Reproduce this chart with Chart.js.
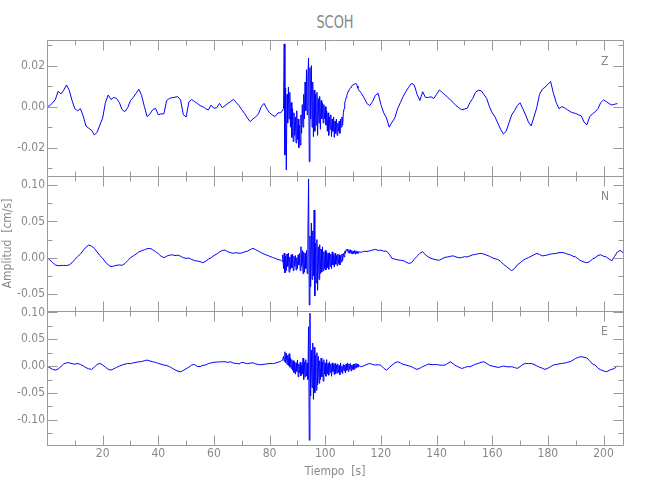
<!DOCTYPE html>
<html>
<head>
    <title>SCOH</title>
    <script src="https://cdn.jsdelivr.net/npm/chart.js"></script>
    <style>
        body { margin: 0; background: #fff; }
        #page { position: relative; width: 650px; height: 500px; background: #fff; }
        canvas { position: absolute; left: 0; }
        .txt { position: absolute; color: #888; font-family: 'Liberation Sans Narrow', 'DejaVu Sans Condensed', sans-serif; }
        .comp { left: 601px; font-size: 12px; line-height: 12px; }
    </style>
</head>
<body>
<div id="page">
    <div class="txt" style="left: 47px; width: 576px; top: 13px; text-align: center; font-size: 18px; line-height: 18px; transform: scaleX(0.8);">SCOH</div>
    <canvas id="panelZ" width="650" height="200" style="top: 0;"></canvas>
    <canvas id="panelN" width="650" height="190" style="top: 150px;"></canvas>
    <canvas id="panelE" width="650" height="210" style="top: 290px;"></canvas>
    <div class="txt comp" style="top: 55px;">Z</div>
    <div class="txt comp" style="top: 190px;">N</div>
    <div class="txt comp" style="top: 325px;">E</div>
</div>
<script>
    // amplitudes are in units of 1e-4 cm/s
    const UNIT = 1e-4;
    const SLOW_DT = 1;        // s, quiet parts (start at 0 s and at 112 s)
    const FAST_DT = 0.25;     // s, strong motion part
    const BURST_START = 84;
    const BURST_END = 112;

    // --- Z component ---
    const zBefore = [
        0, 5, 18, 35, 75, 62, 80, 106, 80, 30,
        -10, -20, -10, -45, -95, -105, -115, -138, -125, -90,
        -55, 20, 57, 35, 45, 40, 20, -15, -24, -5,
        30, 45, 65, 85, 55, 0, -49, -35, -15, -8,
        -40, -35, -35, 30, 40, 44, 46, 49, 33, -40,
        -50, 24, 35, 25, 16, 5, 0, -10, -16, 8,
        -8, -5, 16, -5, 5, 16, 25, 36, 20, 5,
        -15, -33, -55, -73, -60, -50, -35, 0, 16, -10,
        -30, -41, -48, -30
    ];
    const zBurst = [
        -30, -25, -20, -15,   -10, 306, -236, 90,   -309, 60, -80, 95,   -60, 70, -100, 20,
        -150, -10, -170, -30,  -140, -50, -177, -20,  -160, -60, -200, -90,  -187, -40, -130, 10,
        -100, 60, -60, 120,   -20, 180, -40, 150,   237, -268, 190, -60,   200, -100, 120, -146,
        81, -120, 60, -90,    70, -140, 40, -80,    50, -110, 30, -60,    18, -80, 10, -60,
        0, -90, -20, -120,    -30, -140, -50, -110,  -40, -146, -60, -120,  -50, -150, -70, -130,
        -60, -140, -80, -120,  -70, -130, -60, -100,  -50, -90, -30, -10,   18, 30, 45, 55,
        65, 75, 81, 85,       90, 95, 100, 105,     106, 108, 110, 112,   114, 110, 100, 90
    ];
    const zAfter = [
        82, 65, 42, 15, 5, 25, 55, 65, 10, -30,
        -55, -100, -75, -55, -10, 20, 50, 75, 95, 114,
        105, 60, 30, 73, 45, 45, 48, 40, 60, 81,
        70, 58, 45, 33, 20, 5, -5, -15, -12, -8,
        20, 40, 70, 80, 78, 60, 40, 0, -30, -50,
        -80, -110, -133, -120, -80, -40, -20, 5, 19, -10,
        -40, -75, -94, -50, -5, 60, 85, 95, 110, 122,
        65, 20, -10, 0, -5, -15, -24, -30, -33, -40,
        -45, -75, -89, -50, -35, -25, -10, 20, 33, 25,
        15, 8, 12, 15
    ];

    // --- N component ---
    const nBefore = [
        0, -30, -65, -100, -110, -108, -106, -108, -100, -70,
        -25, 15, 50, 100, 145, 175, 160, 130, 80, 30,
        -10, -60, -100, -124, -115, -105, -100, -105, -80, -40,
        0, 25, 50, 80, 95, 110, 125, 129, 110, 85,
        55, 20, 0, 20, 35, 40, 30, 35, 20, 0,
        -10, -5, -25, -40, -45, -55, -69, -50, -20, 0,
        30, 50, 80, 100, 106, 80, 70, 60, 70, 60,
        65, 80, 90, 110, 129, 110, 90, 70, 50, 35,
        20, 5, -10, -25
    ];
    const nBurst = [
        -35, -40, -50, 40,    -150, 60, -211, 20,   -180, 50, -120, 65,   -200, 10, -160, 40,
        -140, 50, -180, 20,   -120, 30, -170, 0,    -150, 40, -100, 60,   -180, 152, -120, 100,
        -220, 80, -200, 60,   -150, 100, -220, 250,  1087, -653, 300, -400, 479, -300, 370, -250,
        658, -528, 200, -350,  250, -450, 150, -300,  180, -220, 120, -200,  150, -180, 80, -150,
        100, -170, 80, -140,  60, -160, 70, -120,   50, -150, 80, -100,   40, -130, 60, -90,
        30, -110, 50, -80,    40, -100, 30, -60,    50, -40, 60, 10,      90, 60, 110, 100,
        120, 70, 110, 60,     110, 60, 100, 50,     90, 60, 100, 50,      95, 60, 85, 60
    ];
    const nAfter = [
        80, 75, 90, 85, 95, 105, 115, 100, 105, 90,
        90, 50, -10, -20, -30, -35, -40, -60, -78, -70,
        -20, 20, 60, 83, 40, 10, -10, -20, -30, -35,
        -15, 5, 10, 20, 25, 10, 0, 0, 15, 10,
        25, 40, 45, 55, 60, 50, 35, 20, 0, -15,
        -25, -50, -90, -120, -150, -179, -150, -100, -70, -40,
        -15, 0, 20, 40, 60, 45, 25, 30, 40, 50,
        55, 60, 70, 72, 65, 50, 40, 20, 10, -20,
        -45, -60, -69, -55, -20, 0, 30, 40, 20, 10,
        -20, -41, 20, 80, 100, 70
    ];

    // --- E component ---
    const eBefore = [
        0, -30, -60, -75, -55, -10, 40, 60, 62, 45,
        35, 50, 30, 5, -30, -50, -62, -20, 30, 50,
        20, -20, -60, -75, -50, -25, 0, 20, 35, 50,
        45, 60, 70, 80, 85, 100, 112, 95, 80, 70,
        50, 35, 20, 10, -10, -40, -70, -95, -106, -80,
        -50, -20, 20, 30, -5, -10, 15, 20, 45, 60,
        70, 75, 78, 81, 80, 70, 80, 55, 50, 40,
        70, 60, 45, 55, 62, 40, 30, 25, 35, 40,
        50, 45, 55, 70
    ];
    const eBurst = [
        90, 100, 110, 130,    180, 90, 267, 60,     240, 30, 200, 10,     230, -20, 150, -43,
        120, -80, 100, -120,  80, -150, 60, -100,   110, -200, 40, -130,  70, -180, 20, -150,
        150, -250, 80, -200,  120, -180, 60, -250,  733, -1381, 983, -560, 300, -400, 430, -620,
        350, -500, 200, -450,  250, -350, 180, -320,  100, -250, 150, -200,  80, -280, 120, -150,
        60, -190, 120, -150,  50, -170, 80, -120,   40, -190, 60, -100,   30, -160, 50, -140,
        20, -130, 40, -120,   10, -160, 60, -110,   0, -140, 30, -90,     20, -130, 40, -80,
        60, -100, 40, -60,    50, -90, 20, -60,     30, -70, 40, -40,     50, -30, 40, -20
    ];
    const eAfter = [
        10, -12, 10, 30, 50, 30, 20, 25, 15, -40,
        -75, -30, 19, 60, 81, 60, 30, 20, 5, -12,
        -40, -62, -40, -10, 10, 37, 30, 25, 30, 20,
        15, 19, 50, 81, 40, 5, -20, -44, -30, -10,
        -12, 10, 35, 50, 70, 81, 50, 15, 0, -10,
        -25, -15, 0, -10, -15, -12, -25, -44, -10, 30,
        50, 45, 50, 30, 5, -20, -40, -62, -40, -10,
        19, 30, 40, 50, 55, 70, 81, 110, 143, 165,
        174, 165, 150, 100, 40, 19, -40, -70, -90, -106,
        -80, -60, -44, 6
    ];

    const T_MIN = 0, T_MAX = 207;
    const GRAY_TEXT = '#888';
    const GRAY_LINE = '#9a9a9a';
    const FONT = "'Liberation Sans Narrow', 'DejaVu Sans Condensed', sans-serif";

    function toPoints(before, burst, after) {
        const pts = [];
        before.forEach((v, i) => pts.push({x: i * SLOW_DT, y: v * UNIT}));
        burst.forEach((v, i) => pts.push({x: BURST_START + i * FAST_DT, y: v * UNIT}));
        after.forEach((v, i) => pts.push({x: BURST_END + i * SLOW_DT, y: v * UNIT}));
        return pts;
    }

    function isOnStep(v, step) {
        return Math.abs(v / step - Math.round(v / step)) < 1e-6;
    }

    function isMajor(v, step) {
        return isOnStep(v, step) && Math.abs(Math.round(v / step)) % 2 === 0;
    }

    // IDL-like box with inward ticks on all four sides
    const frameTicks = {
        id: 'frameTicks',
        afterDatasetsDraw(chart, args, opts) {
            const ctx = chart.ctx;
            const a = chart.chartArea;
            const x = chart.scales.x, y = chart.scales.y;
            const L = Math.round(a.left) + 0.5, R = Math.round(a.right) + 0.5;
            const T = Math.round(a.top) + 0.5, B = Math.round(a.bottom) + 0.5;
            ctx.save();
            ctx.strokeStyle = GRAY_LINE;
            ctx.lineWidth = 1;
            ctx.beginPath();
            ctx.rect(L, T, R - L, B - T);
            x.ticks.forEach(t => {
                if (!isOnStep(t.value, opts.xStep)) return;
                const len = isMajor(t.value, opts.xStep) ? 10 : 5;
                const px = Math.round(x.getPixelForValue(t.value)) + 0.5;
                ctx.moveTo(px, B); ctx.lineTo(px, B - len);
                ctx.moveTo(px, T); ctx.lineTo(px, T + len);
            });
            y.ticks.forEach(t => {
                if (!isOnStep(t.value, opts.yStep)) return;
                const len = isMajor(t.value, opts.yStep) ? 10 : 5;
                const py = Math.round(y.getPixelForValue(t.value)) + 0.5;
                ctx.moveTo(L, py); ctx.lineTo(L + len, py);
                ctx.moveTo(R, py); ctx.lineTo(R - len, py);
            });
            ctx.stroke();
            ctx.restore();
        }
    };

    function makePanel(id, points, p) {
        const xTitle = p.showX ? {
            display: true, text: 'Tiempo  [s]', color: GRAY_TEXT,
            font: {family: FONT, size: 12}, padding: {top: 0, bottom: 21}
        } : {display: false};
        const yTitle = p.yTitle ? {
            display: true, text: p.yTitle, color: GRAY_TEXT,
            font: {family: FONT, size: 12}, padding: {top: 1, bottom: 0}
        } : {display: false};

        return new Chart(document.getElementById(id), {
            type: 'line',
            data: {
                datasets: [{
                    data: points,
                    borderColor: 'rgb(0,0,255)',
                    borderWidth: 1,
                    pointRadius: 0,
                    tension: 0
                }]
            },
            options: {
                responsive: false,
                animation: false,
                devicePixelRatio: 1,
                layout: {padding: {left: 0, right: 27, top: p.padTop, bottom: p.padBottom}},
                plugins: {
                    legend: {display: false},
                    tooltip: {enabled: false},
                    frameTicks: {xStep: 10, yStep: p.yStep}
                },
                scales: {
                    x: {
                        type: 'linear',
                        min: T_MIN,
                        max: T_MAX,
                        grid: {display: false, drawTicks: false},
                        border: {display: false},
                        ticks: {
                            display: p.showX,
                            stepSize: 10,
                            includeBounds: false,
                            autoSkip: false,
                            maxRotation: 0,
                            padding: 2,
                            color: GRAY_TEXT,
                            font: {family: FONT, size: 12},
                            callback: v => (v !== 0 && isMajor(v, 10)) ? String(v) : ''
                        },
                        title: xTitle,
                        afterFit: s => { s.height = p.showX ? 55 : 0; }
                    },
                    y: {
                        min: p.yMin,
                        max: p.yMax,
                        grid: {display: false, drawTicks: false},
                        border: {display: false},
                        ticks: {
                            stepSize: p.yStep,
                            includeBounds: false,
                            autoSkip: false,
                            padding: 2,
                            color: GRAY_TEXT,
                            font: {family: FONT, size: 12},
                            callback: v => isMajor(v, p.yStep) ? v.toFixed(2) : ''
                        },
                        title: yTitle,
                        afterFit: s => { s.width = 47; }
                    }
                }
            },
            plugins: [frameTicks]
        });
    }

    makePanel('panelZ', toPoints(zBefore, zBurst, zAfter), {
        yMin: -0.0338, yMax: 0.0325, yStep: 0.01, padTop: 40, padBottom: 24, showX: false
    });
    makePanel('panelN', toPoints(nBefore, nBurst, nAfter), {
        yMin: -0.0736, yMax: 0.1128, yStep: 0.025, padTop: 26, padBottom: 29, showX: false,
        yTitle: 'Amplitud  [cm/s]'
    });
    makePanel('panelE', toPoints(eBefore, eBurst, eAfter), {
        yMin: -0.147, yMax: 0.1026, yStep: 0.025, padTop: 21, padBottom: 0, showX: true
    });
</script>
</body>
</html>
